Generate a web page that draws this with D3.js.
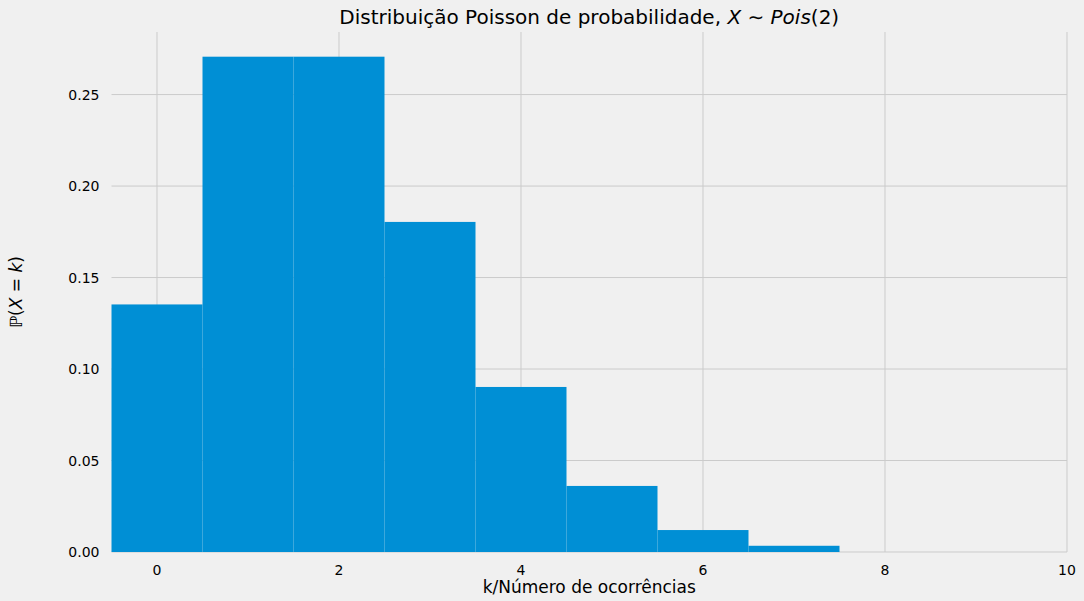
<!DOCTYPE html>
<html><head><meta charset="utf-8">
<script src="https://cdn.jsdelivr.net/npm/d3@7"></script>
<style>
body{margin:0;background:#f0f0f0;}
text{font-family:"DejaVu Sans",sans-serif;fill:#000;}
</style></head>
<body><svg id="chart" width="1084" height="601"></svg>
<script>
const ks=[0,1,2,3,4,5,6,7];
const probs=[0.1353,0.2707,0.2707,0.1804,0.0902,0.0361,0.0120,0.0034];
const xTicks=[0,2,4,6,8,10];
const yTicks=[0,0.05,0.10,0.15,0.20,0.25];

const svg=d3.select("#chart");
const m={top:32,right:17,bottom:49,left:111.5};
const W=1084,H=601;
const x=d3.scaleLinear().domain([-0.5,10]).range([m.left,W-m.right]);
const y=d3.scaleLinear().domain([0,0.2842]).range([H-m.bottom,m.top]);

svg.append("rect").attr("width",W).attr("height",H).attr("fill","#f0f0f0");

const grid=svg.append("g").attr("stroke","#cbcbcb").attr("stroke-width",1);
grid.selectAll(".gx").data(xTicks).join("line")
  .attr("x1",d=>x(d)).attr("x2",d=>x(d)).attr("y1",m.top).attr("y2",H-m.bottom);
grid.selectAll(".gy").data(yTicks).join("line")
  .attr("x1",m.left).attr("x2",W-m.right).attr("y1",d=>y(d)).attr("y2",d=>y(d));

svg.append("g").selectAll("rect").data(ks).join("rect")
  .attr("x",k=>x(k-0.5)).attr("width",k=>x(k+0.5)-x(k-0.5))
  .attr("y",(k,i)=>y(probs[i])).attr("height",(k,i)=>y(0)-y(probs[i]))
  .attr("fill","#008fd5");

svg.append("g").selectAll("text").data(xTicks).join("text")
  .attr("x",d=>x(d)).attr("y",H-m.bottom+23).attr("text-anchor","middle")
  .attr("font-size",14).text(d=>d);
svg.append("g").selectAll("text").data(yTicks).join("text")
  .attr("x",m.left-12).attr("y",d=>y(d)+5).attr("text-anchor","end")
  .attr("font-size",14).text(d=>d3.format(".2f")(d));

svg.append("text").attr("x",(m.left+W-m.right)/2).attr("y",H-8)
  .attr("text-anchor","middle").attr("font-size",17).text("k/Número de ocorrências");

svg.append("text").attr("transform",`translate(22,${(m.top+H-m.bottom)/2}) rotate(-90)`)
  .attr("text-anchor","middle").attr("font-size",17)
  .html('ℙ(<tspan font-style="italic">X</tspan> = <tspan font-style="italic">k</tspan>)');

svg.append("text").attr("x",(m.left+W-m.right)/2).attr("y",24)
  .attr("text-anchor","middle").attr("font-size",20)
  .html('Distribuição Poisson de probabilidade, <tspan font-style="italic">X</tspan> ∼ <tspan font-style="italic">Pois</tspan>(2)');
</script></body></html>
